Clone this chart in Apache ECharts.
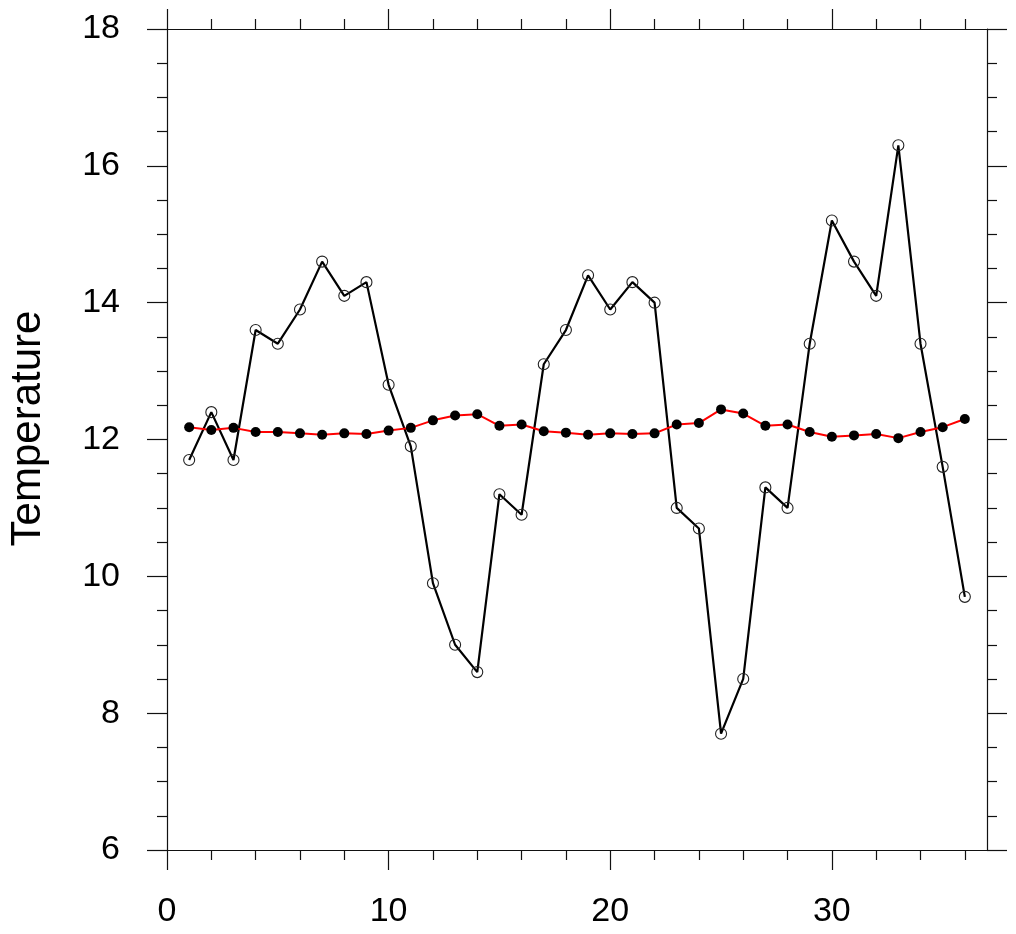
<!DOCTYPE html>
<html>
<head>
<meta charset="utf-8">
<script src="https://cdn.jsdelivr.net/npm/echarts@6/dist/echarts.min.js"></script>
<style>html,body{margin:0;padding:0;background:#fff}#c{width:1016px;height:934px}</style>
</head>
<body>
<div id="c"></div>
<script>
// Data
const months = [1,2,3,4,5,6,7,8,9,10,11,12,13,14,15,16,17,18,19,20,21,22,23,24,25,26,27,28,29,30,31,32,33,34,35,36];
const temperature = [11.7,12.4,11.7,13.6,13.4,13.9,14.6,14.1,14.3,12.8,11.9,9.9,9.0,8.6,11.2,10.9,13.1,13.6,14.4,13.9,14.3,14.0,11.0,10.7,7.7,8.5,11.3,11.0,13.4,15.2,14.6,14.1,16.3,13.4,11.6,9.7];
const smoothed = [12.18,12.14,12.17,12.11,12.11,12.09,12.07,12.09,12.08,12.13,12.17,12.28,12.35,12.37,12.20,12.22,12.12,12.10,12.07,12.09,12.08,12.09,12.22,12.24,12.44,12.38,12.20,12.22,12.11,12.04,12.06,12.08,12.02,12.11,12.18,12.30];
const xMajorTicks = [0,10,20,30];
const xMinorTicks = [2,4,6,8,12,14,16,18,22,24,26,28,32,34,36];
const yAxisName = 'Temperature';

const FONT = 'Liberation Sans, Arial, Helvetica, sans-serif';
const AX = '#111';
const GRID_W = 820;
const chart = echarts.init(document.getElementById('c'), null, {renderer: 'canvas'});

function xAxisDef(pos, ticks, len, showLine, showLabel) {
  return {
    type: 'value', position: pos, min: 0, max: 37,
    axisLine: {show: showLine, lineStyle: {color: AX, width: 1.2}},
    axisTick: {show: true, inside: false, length: len, customValues: ticks, lineStyle: {color: AX, width: 1.2}},
    axisLabel: {show: showLabel, customValues: ticks, fontSize: 34, fontFamily: FONT, color: '#000', margin: 45},
    splitLine: {show: false}
  };
}
function yAxisDef(showLabel, offset, inside) {
  return {
    type: 'value', position: 'left', offset: offset, min: 6, max: 18, interval: 2,
    axisLine: {show: true, lineStyle: {color: AX, width: 1.2}},
    axisTick: {show: true, inside: inside, length: 20, lineStyle: {color: AX, width: 1.2}},
    minorTick: {show: true, splitNumber: 4, length: 10, lineStyle: {color: AX, width: 1.2}},
    axisLabel: {show: showLabel, fontSize: 34, fontFamily: FONT, color: '#000', margin: 47},
    splitLine: {show: false}, minorSplitLine: {show: false}
  };
}

const yLeft = yAxisDef(true, 0, false);
yLeft.name = yAxisName;
yLeft.nameLocation = 'middle';
yLeft.nameRotate = 90;
yLeft.nameGap = 118;
yLeft.nameTextStyle = {fontSize: 42, fontFamily: FONT, color: '#000', padding: [0, 0, 0, 22]};
const yRight = yAxisDef(false, -GRID_W, true);

const option = {
  animation: false,
  backgroundColor: '#fff',
  grid: {left: 167, top: 29, width: GRID_W, height: 821, containLabel: false, outerBoundsMode: 'none'},
  xAxis: [
    xAxisDef('bottom', xMajorTicks, 20, true, true),
    xAxisDef('bottom', xMinorTicks, 10, false, false),
    xAxisDef('top', xMajorTicks, 20, true, false),
    xAxisDef('top', xMinorTicks, 10, false, false)
  ],
  yAxis: [yLeft, yRight],
  series: [
    {
      type: 'line', xAxisIndex: 0, yAxisIndex: 0,
      data: months.map((m, i) => [m, temperature[i]]),
      lineStyle: {color: '#000', width: 2.2},
      symbol: 'circle', symbolSize: 11,
      itemStyle: {color: 'rgba(0,0,0,0)', borderColor: '#222', borderWidth: 1.1},
      z: 3
    },
    {
      type: 'line', xAxisIndex: 0, yAxisIndex: 0,
      data: months.map((m, i) => [m, smoothed[i]]),
      lineStyle: {color: '#ff0000', width: 2},
      symbol: 'circle', symbolSize: 10,
      itemStyle: {color: '#000', borderWidth: 0},
      z: 4
    }
  ]
};
chart.setOption(option);
</script>
</body>
</html>
